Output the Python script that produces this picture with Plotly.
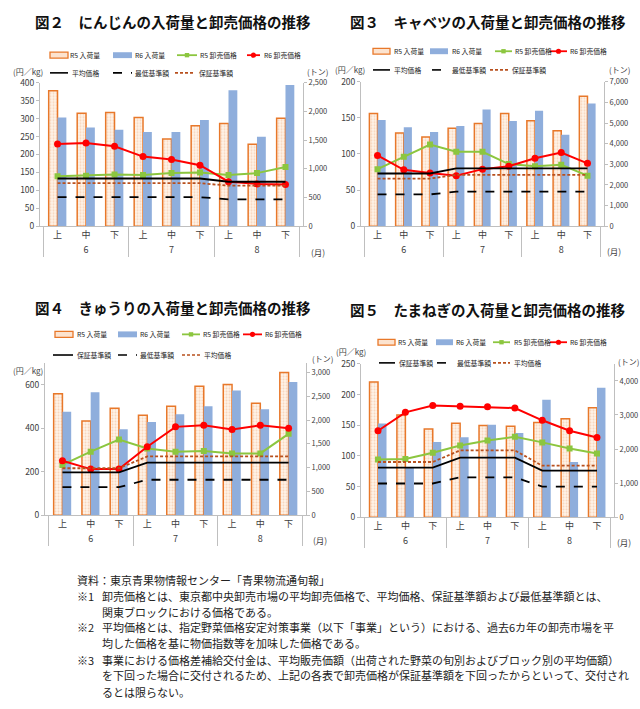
import plotly.graph_objects as go

# ---------------- data ----------------
months = ["6", "6", "6", "7", "7", "7", "8", "8", "8"]
periods = ["上", "中", "下", "上", "中", "下", "上", "中", "下"]

# 図2 にんじん
carrot_r5_vol = [2360, 1970, 1980, 1895, 1520, 1750, 1790, 1430, 1880]
carrot_r6_vol = [1895, 1720, 1680, 1640, 1640, 1850, 2370, 1560, 2460]
carrot_r5_price = [139, 141, 144, 143, 148, 150, 143, 148, 165]
carrot_r6_price = [229, 232, 223, 194, 186, 170, 124, 118, 116]
carrot_avg = [133, 133, 133, 133, 133, 133, 124, 124, 124]
carrot_min = [81, 81, 81, 81, 81, 81, 75, 75, 75]
carrot_guar = [120, 120, 120, 120, 120, 120, 113, 113, 113]

# 図3 キャベツ
cabbage_r5_vol = [5460, 4510, 4320, 4750, 4980, 5460, 5110, 4630, 6300]
cabbage_r6_vol = [5140, 4800, 4560, 4860, 5650, 5100, 5590, 4430, 5940]
cabbage_r5_price = [79, 96, 113, 103, 103, 86, 83, 85, 70]
cabbage_r6_price = [98, 78, 73.5, 70, 79, 83, 94, 102, 87]
cabbage_avg = [73, 73, 73, 80, 80, 80, 80, 80, 80]
cabbage_min = [44, 44, 44, 48, 48, 48, 48, 48, 48]
cabbage_guar = [66, 66, 66, 71, 71, 71, 71, 71, 71]

# 図4 きゅうり
cucumber_r5_vol = [2550, 1980, 2245, 2100, 2290, 2710, 2745, 2350, 3000]
cucumber_r6_vol = [2175, 2585, 1805, 1960, 2120, 2290, 2620, 2225, 2800]
cucumber_r5_price = [231, 292, 348, 307, 292, 295, 284, 284, 374]
cucumber_r6_price = [250, 212, 212, 315, 406, 413, 394, 413, 400]
cucumber_guar = [197, 197, 197, 242, 242, 242, 242, 242, 242]
cucumber_min = [129, 129, 129, 163, 163, 163, 163, 163, 163]
cucumber_avg = [216, 216, 216, 270, 270, 270, 270, 270, 270]

# 図5 たまねぎ
onion_r5_vol = [3970, 3000, 2590, 2760, 2690, 2670, 2780, 2890, 3210]
onion_r6_vol = [2750, 1450, 2210, 2350, 2710, 2470, 3450, 1620, 3800]
onion_r5_price = [94, 95, 105, 117, 125, 131, 122, 112, 104]
onion_r6_price = [141, 171, 182, 181, 180, 178, 158, 141, 130]
onion_guar = [81, 81, 81, 97, 97, 97, 76, 76, 76]
onion_min = [55, 55, 55, 65, 65, 65, 50, 50, 50]
onion_avg = [90, 90, 90, 109, 109, 109, 84, 84, 84]

titles = [
    "図２　にんじんの入荷量と卸売価格の推移",
    "図３　キャベツの入荷量と卸売価格の推移",
    "図４　きゅうりの入荷量と卸売価格の推移",
    "図５　たまねぎの入荷量と卸売価格の推移",
]
series_names = ["R5 入荷量", "R6 入荷量", "R5 卸売価格", "R6 卸売価格"]

notes = [
    ("資料：東京青果物情報センター「青果物流通旬報」", None),
    ("※1", "卸売価格とは、東京都中央卸売市場の平均卸売価格で、平均価格、保証基準額および最低基準額とは、"),
    (None, "関東ブロックにおける価格である。"),
    ("※2", "平均価格とは、指定野菜価格安定対策事業（以下「事業」という）における、過去6カ年の卸売市場を平"),
    (None, "均した価格を基に物価指数等を加味した価格である。"),
    ("※3", "事業における価格差補給交付金は、平均販売価額（出荷された野菜の旬別およびブロック別の平均価額）"),
    (None, "を下回った場合に交付されるため、上記の各表で卸売価格が保証基準額を下回ったからといって、交付され"),
    (None, "るとは限らない。"),
]

# ---------------- styling / layout ----------------
W, H = 640, 709
FONT = "Noto Sans CJK JP"
AXC = "#BFBFBF"
TXT = "#404040"
ORANGE = "#E8782A"
R5FILL = "#FEF2E8"
BLUE = "#8FAEDC"
GREEN = "#8CC63F"
RED = "#FF0000"
BROWN = "#B8501E"
DOT = "3px,2px"


def fx(v):
    return v / W


def fy(v):
    return 1 - v / H


panels = [
    dict(data=(carrot_r5_vol, carrot_r6_vol, carrot_r5_price, carrot_r6_price,
               [("平均価格", carrot_avg, "black", "solid"),
                ("最低基準額", carrot_min, "black", "dash"),
                ("保証基準額", carrot_guar, BROWN, DOT)]),
         px=(40, 303), py=(77, 223), lr=(0, 400), ld=50, rr=(0, 2500), rd=500,
         title_xy=(173, 15),
         leg=[(50, 68, 49, 68), (113, 132, 49, 133), (177, 197, 49, 198), (247, 260, 49, 262),
              (50, 68, 67, 70), (113, 132, 67, 133), (175, 195, 67, 197)],
         lunit=(28, 66), runit=(317, 66), mon=(318, 249)),
    dict(data=(cabbage_r5_vol, cabbage_r6_vol, cabbage_r5_price, cabbage_r6_price,
               [("平均価格", cabbage_avg, "black", "solid"),
                ("最低基準額", cabbage_min, "black", "dash"),
                ("保証基準額", cabbage_guar, BROWN, DOT)]),
         px=(361, 604), py=(76, 223), lr=(0, 200), ld=50, rr=(0, 7000), rd=1000,
         title_xy=(488, 15),
         leg=[(373, 390, 45, 392), (430, 448, 45, 450), (495, 512, 45, 513), (550, 567, 45, 568),
              (373, 390, 64, 392), (432, 448, 64, 450), (490, 508, 64, 510)],
         lunit=(350, 64), runit=(619, 64), mon=(614, 248)),
    dict(data=(cucumber_r5_vol, cucumber_r6_vol, cucumber_r5_price, cucumber_r6_price,
               [("保証基準額", cucumber_guar, "black", "solid"),
                ("最低基準額", cucumber_min, "black", "dash"),
                ("平均価格", cucumber_avg, BROWN, DOT)]),
         px=(45, 306), py=(362, 517), lr=(0, 700), ld=200, rr=(0, 3200), rd=500,
         title_xy=(173, 306),
         leg=[(55, 73, 333, 75), (118, 137, 333, 138), (182, 200, 333, 201), (243, 262, 333, 263),
              (53, 73, 354, 75), (118, 137, 354, 138), (182, 200, 354, 202)],
         lunit=(28, 370), runit=(322, 358), mon=(320, 542)),
    dict(data=(onion_r5_vol, onion_r6_vol, onion_r5_price, onion_r6_price,
               [("保証基準額", onion_guar, "black", "solid"),
                ("最低基準額", onion_min, "black", "dash"),
                ("平均価格", onion_avg, BROWN, DOT)]),
         px=(361, 614), py=(363, 519), lr=(0, 250), ld=50, rr=(0, 4500), rd=1000,
         title_xy=(488, 308),
         leg=[(378, 395, 341, 396), (436, 453, 341, 454), (493, 510, 341, 512), (550, 567, 341, 568),
              (379, 395, 362, 397), (437, 453, 362, 455), (493, 510, 362, 512)],
         lunit=(351, 350), runit=(628, 361), mon=(624, 544)),
]

fig = go.Figure()
layout = dict(
    width=W, height=H, margin=dict(l=0, r=0, t=0, b=0),
    paper_bgcolor="white", plot_bgcolor="white",
    font=dict(family=FONT, size=9, color=TXT),
    barmode="group", bargap=0.38, bargroupgap=0,
    showlegend=False,
)
annotations = []
shapes = []
xcat = [months, periods]


def legend_text(txt, x, y):
    annotations.append(dict(text=txt, x=fx(x), y=fy(y), xref="paper", yref="paper",
                            showarrow=False, xanchor="left", yanchor="middle",
                            font=dict(size=6.8, color="#222")))


def key_line(x0, x1, y, color, width, dash):
    shapes.append(dict(type="line", xref="paper", yref="paper", x0=fx(x0), x1=fx(x1),
                       y0=fy(y), y1=fy(y), line=dict(color=color, width=width, dash=dash)))


for i, p in enumerate(panels):
    k = i + 1
    xa = "x" if k == 1 else f"x{k}"
    yb_n = 2 * k - 1
    yl_n = 2 * k
    yb = "y" if yb_n == 1 else f"y{yb_n}"
    yl = f"y{yl_n}"
    r5v, r6v, r5p, r6p, refs = p["data"]

    fig.add_trace(go.Bar(
        x=xcat, y=r5v, name=series_names[0], xaxis=xa, yaxis=yb, offsetgroup="a",
        marker=dict(color=R5FILL, line=dict(color=ORANGE, width=1.5),
                    pattern=dict(shape=".", fgcolor="#F2B88E", size=3,
                                 solidity=0.35, fillmode="overlay")),
    ))
    fig.add_trace(go.Bar(
        x=xcat, y=r6v, name=series_names[1], xaxis=xa, yaxis=yb, offsetgroup="b",
        marker=dict(color=BLUE, line=dict(width=0)),
    ))
    fig.add_trace(go.Scatter(
        x=xcat, y=r5p, name=series_names[2], xaxis=xa, yaxis=yl, mode="lines+markers",
        line=dict(color=GREEN, width=2), marker=dict(symbol="square", size=6, color=GREEN),
    ))
    fig.add_trace(go.Scatter(
        x=xcat, y=r6p, name=series_names[3], xaxis=xa, yaxis=yl, mode="lines+markers",
        line=dict(color=RED, width=2), marker=dict(symbol="circle", size=7, color=RED),
    ))
    for nm, vals, col, dash in refs:
        fig.add_trace(go.Scatter(
            x=xcat, y=vals, name=nm, xaxis=xa, yaxis=yl, mode="lines",
            line=dict(color=col, width=1.8, dash=dash),
        ))

    x0, x1 = p["px"]
    yt, ybot = p["py"]
    layout["xaxis" if k == 1 else f"xaxis{k}"] = dict(
        domain=[fx(x0), fx(x1)], anchor=yb, type="multicategory",
        showline=True, linecolor=AXC, linewidth=1, ticks="",
        showdividers=True, dividercolor=AXC, dividerwidth=1,
        tickfont=dict(size=9, color=TXT), showgrid=False, zeroline=False,
    )
    layout["yaxis" if yb_n == 1 else f"yaxis{yb_n}"] = dict(
        domain=[fy(ybot), fy(yt)], anchor=xa, side="right",
        range=list(p["rr"]), dtick=p["rd"], tick0=0, tickformat=",",
        showline=True, linecolor=AXC, ticks="outside", ticklen=3, tickcolor=AXC,
        showgrid=False, zeroline=False, tickfont=dict(size=7.5, color=TXT),
    )
    layout[f"yaxis{yl_n}"] = dict(
        overlaying=yb, anchor=xa, side="left",
        range=list(p["lr"]), dtick=p["ld"], tick0=0,
        showline=True, linecolor=AXC, ticks="outside", ticklen=3, tickcolor=AXC,
        showgrid=False, zeroline=False, tickfont=dict(size=8.5, color=TXT),
    )

    # ---- legend (two rows, drawn as keys + text) ----
    leg = p["leg"]
    a, b, y, t = leg[0]
    shapes.append(dict(type="rect", xref="paper", yref="paper", x0=fx(a), x1=fx(b),
                       y0=fy(y + 3), y1=fy(y - 3), fillcolor="#FCE3CF",
                       line=dict(color=ORANGE, width=1.3)))
    legend_text(series_names[0], t, y)
    a, b, y, t = leg[1]
    shapes.append(dict(type="rect", xref="paper", yref="paper", x0=fx(a), x1=fx(b),
                       y0=fy(y + 3), y1=fy(y - 3), fillcolor=BLUE, line=dict(width=0)))
    legend_text(series_names[1], t, y)
    a, b, y, t = leg[2]
    key_line(a, b, y, GREEN, 1.8, "solid")
    m = (a + b) / 2
    shapes.append(dict(type="rect", xref="paper", yref="paper", x0=fx(m - 2.2), x1=fx(m + 2.2),
                       y0=fy(y + 2.2), y1=fy(y - 2.2), fillcolor=GREEN, line=dict(width=0)))
    legend_text(series_names[2], t, y)
    a, b, y, t = leg[3]
    key_line(a, b, y, RED, 1.8, "solid")
    m = (a + b) / 2
    shapes.append(dict(type="circle", xref="paper", yref="paper", x0=fx(m - 2.6), x1=fx(m + 2.6),
                       y0=fy(y + 2.6), y1=fy(y - 2.6), fillcolor=RED, line=dict(width=0)))
    legend_text(series_names[3], t, y)
    for j, (nm, vals, col, dash) in enumerate(refs):
        a, b, y, t = leg[4 + j]
        key_line(a, b, y, col, 1.6, dash)
        legend_text(nm, t, y)

    annotations.append(dict(text=titles[i], x=fx(p["title_xy"][0]), y=fy(p["title_xy"][1]),
                            xref="paper", yref="paper", showarrow=False,
                            xanchor="center", yanchor="middle",
                            font=dict(size=14.5, color="#111", family=FONT, weight=700)))
    annotations.append(dict(text="(円／kg)", x=fx(p["lunit"][0]), y=fy(p["lunit"][1]),
                            xref="paper", yref="paper", showarrow=False,
                            xanchor="center", yanchor="middle", font=dict(size=8, color=TXT)))
    annotations.append(dict(text="(トン)", x=fx(p["runit"][0]), y=fy(p["runit"][1]),
                            xref="paper", yref="paper", showarrow=False,
                            xanchor="center", yanchor="middle", font=dict(size=8, color=TXT)))
    annotations.append(dict(text="(月)", x=fx(p["mon"][0]), y=fy(p["mon"][1]),
                            xref="paper", yref="paper", showarrow=False,
                            xanchor="center", yanchor="middle", font=dict(size=8.5, color=TXT)))

note_y = [583, 599, 615, 631, 647, 664, 680, 697]
for (lab, txt), yy in zip(notes, note_y):
    if lab is not None:
        annotations.append(dict(text=lab, x=fx(75), y=fy(yy), xref="paper", yref="paper",
                                showarrow=False, xanchor="left", yanchor="middle",
                                font=dict(size=11, color="#222")))
    if txt is not None:
        annotations.append(dict(text=txt, x=fx(100), y=fy(yy), xref="paper", yref="paper",
                                showarrow=False, xanchor="left", yanchor="middle",
                                font=dict(size=11, color="#222")))

layout["annotations"] = annotations
layout["shapes"] = shapes
fig.update_layout(**layout)
fig.write_html("out.html", config={"displayModeBar": False},
               post_script="document.body.style.margin='0px';")
